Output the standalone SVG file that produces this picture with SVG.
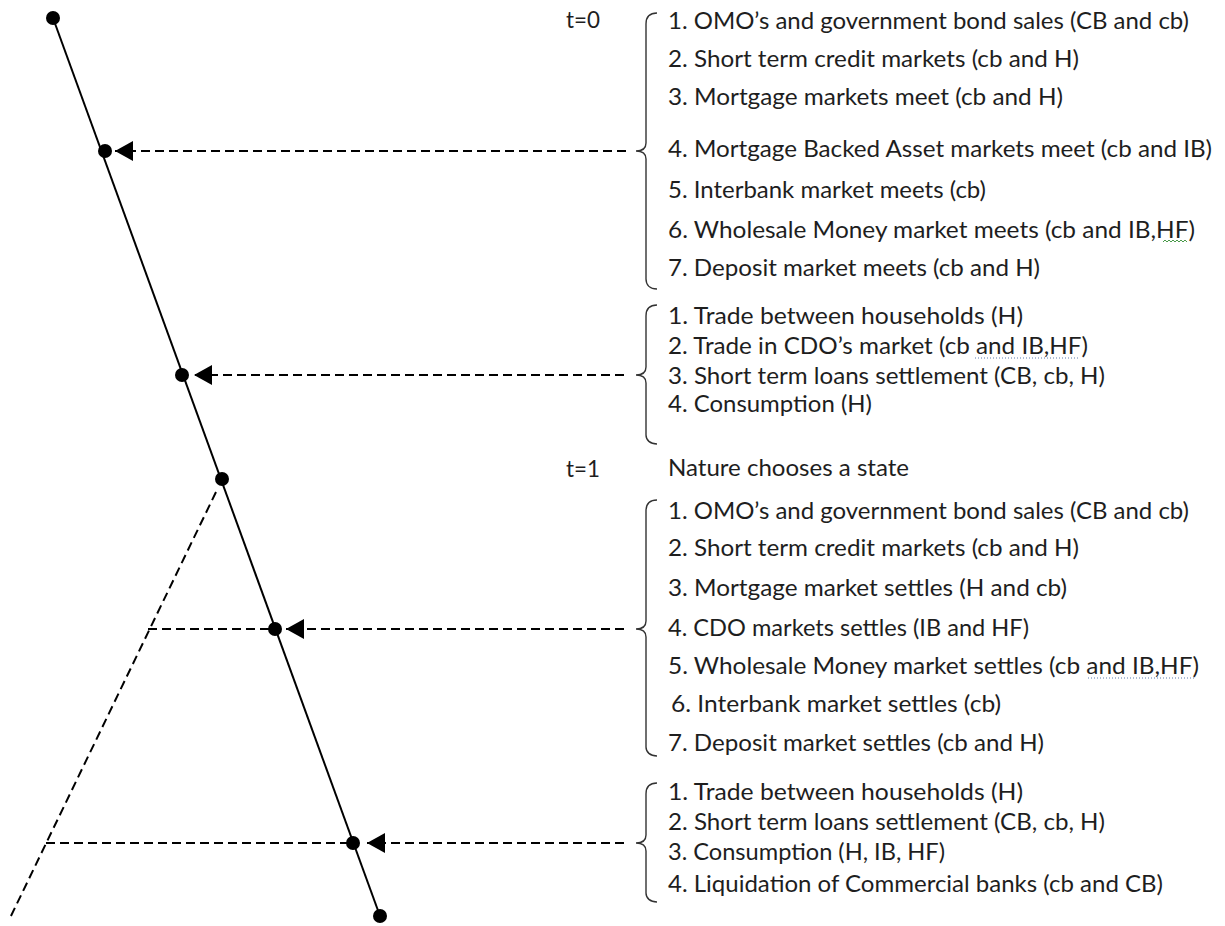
<svg xmlns="http://www.w3.org/2000/svg" width="1225" height="926" viewBox="0 0 1225 926">
<style>
text{font-family:Lato,"Liberation Sans",sans-serif;font-size:23px;fill:#1e1e1e}
.dash{stroke:#000;stroke-width:2;stroke-dasharray:9 5;fill:none}
.brace{stroke:#333;stroke-width:1.4;fill:none}
.dot{fill:#000}
.uline{stroke:#5a7ab0;stroke-width:1;stroke-dasharray:1 2}
</style>
<defs>
<marker id="ah" markerUnits="userSpaceOnUse" markerWidth="20" markerHeight="20" viewBox="0 0 20 20" refX="18" refY="10" orient="auto">
<path d="M0,0 L18,10 L0,20 Z" fill="#000"/>
</marker>
</defs>
<g id="timeline">
<line x1="53" y1="18" x2="380" y2="916" stroke="#000" stroke-width="2"/>
<circle class="dot" cx="53" cy="18" r="7"/>
<circle class="dot" cx="105" cy="151" r="7"/>
<circle class="dot" cx="182" cy="375" r="7"/>
<circle class="dot" cx="222" cy="479" r="7"/>
<circle class="dot" cx="275" cy="629" r="7"/>
<circle class="dot" cx="353" cy="843" r="7"/>
<circle class="dot" cx="380" cy="916" r="7"/>
</g>
<g id="connectors">
<line class="dash" x1="626" y1="151" x2="115" y2="151" marker-end="url(#ah)"/>
<line class="dash" x1="624" y1="375" x2="194" y2="375" marker-end="url(#ah)"/>
<line class="dash" x1="624" y1="629" x2="286" y2="629" marker-end="url(#ah)"/>
<line class="dash" x1="624" y1="843" x2="367" y2="843" marker-end="url(#ah)"/>
<line class="dash" x1="216" y1="492" x2="10" y2="918"/>
<line class="dash" x1="148" y1="629" x2="270" y2="629"/>
<line class="dash" x1="46" y1="843" x2="348" y2="843"/>
</g>
<g id="labels">
<text x="566" y="28" textLength="34" lengthAdjust="spacingAndGlyphs">t=0</text>
<text x="566" y="477" textLength="34" lengthAdjust="spacingAndGlyphs">t=1</text>
<text x="668" y="476" textLength="241" lengthAdjust="spacingAndGlyphs">Nature chooses a state</text>
</g>
<g id="group1">
<path class="brace" d="M657,13 C650,13 646,17 646,24 L646,143 C646,148 643,151 636,151 C643,151 646,154 646,159 L646,279 C646,285 650,289 657,289"/>
<text x="668" y="29" textLength="521" lengthAdjust="spacingAndGlyphs">1. OMO’s and government bond sales (CB and cb)</text>
<text x="668" y="67" textLength="411" lengthAdjust="spacingAndGlyphs">2. Short term credit markets (cb and H)</text>
<text x="668" y="105" textLength="395" lengthAdjust="spacingAndGlyphs">3. Mortgage markets meet (cb and H)</text>
<text x="668" y="157" textLength="544" lengthAdjust="spacingAndGlyphs">4. Mortgage Backed Asset markets meet (cb and IB)</text>
<text x="668" y="198" textLength="318" lengthAdjust="spacingAndGlyphs">5. Interbank market meets (cb)</text>
<text x="668" y="238" textLength="527" lengthAdjust="spacingAndGlyphs">6. Wholesale Money market meets (cb and  IB,HF)</text>
<text x="668" y="276" textLength="372" lengthAdjust="spacingAndGlyphs">7. Deposit market meets (cb and H)</text>
<path d="M1163,242 l2,-2 l2,2 l2,-2 l2,2 l2,-2 l2,2 l2,-2 l2,2 l2,-2 l2,2 l2,-2 l2,2" stroke="#4a9a4a" stroke-width="1" fill="none"/>
</g>
<g id="group2">
<path class="brace" d="M657,305 C650,305 646,309 646,316 L646,367 C646,372 643,375 636,375 C643,375 646,378 646,383 L646,435 C646,440 650,444 657,444"/>
<text x="668" y="324" textLength="355" lengthAdjust="spacingAndGlyphs">1. Trade between households  (H)</text>
<text x="668" y="354" textLength="420" lengthAdjust="spacingAndGlyphs">2. Trade in CDO’s market (cb and  IB,HF)</text>
<text x="668" y="384" textLength="437" lengthAdjust="spacingAndGlyphs">3. Short term loans settlement (CB, cb, H)</text>
<text x="668" y="412" textLength="204" lengthAdjust="spacingAndGlyphs">4. Consumption (H)</text>
<line class="uline" x1="975" y1="358" x2="1080" y2="358"/>
</g>
<g id="group3">
<path class="brace" d="M657,500 C650,500 646,504 646,511 L646,621 C646,626 643,629 636,629 C643,629 646,632 646,637 L646,747 C646,752 650,756 657,756"/>
<text x="668" y="519" textLength="521" lengthAdjust="spacingAndGlyphs">1. OMO’s and government bond sales (CB and cb)</text>
<text x="668" y="556" textLength="411" lengthAdjust="spacingAndGlyphs">2. Short term credit markets (cb and H)</text>
<text x="668" y="596" textLength="399" lengthAdjust="spacingAndGlyphs">3. Mortgage market settles (H and cb)</text>
<text x="668" y="636" textLength="361" lengthAdjust="spacingAndGlyphs">4. CDO markets settles (IB and HF)</text>
<text x="668" y="674" textLength="531" lengthAdjust="spacingAndGlyphs">5. Wholesale Money market settles (cb and  IB,HF)</text>
<text x="671" y="712" textLength="330" lengthAdjust="spacingAndGlyphs">6. Interbank market settles (cb)</text>
<text x="668" y="751" textLength="376" lengthAdjust="spacingAndGlyphs">7. Deposit market settles (cb and H)</text>
<line class="uline" x1="1088" y1="678" x2="1195" y2="678"/>
</g>
<g id="group4">
<path class="brace" d="M657,783 C650,783 646,787 646,794 L646,835 C646,840 643,843 636,843 C643,843 646,846 646,851 L646,893 C646,898 650,902 657,902"/>
<text x="668" y="800" textLength="355" lengthAdjust="spacingAndGlyphs">1. Trade between households  (H)</text>
<text x="668" y="830" textLength="437" lengthAdjust="spacingAndGlyphs">2. Short term loans settlement (CB, cb, H)</text>
<text x="668" y="860" textLength="277" lengthAdjust="spacingAndGlyphs">3. Consumption (H, IB, HF)</text>
<text x="668" y="892" textLength="495" lengthAdjust="spacingAndGlyphs">4. Liquidation of Commercial banks (cb and CB)</text>
</g>
</svg>
